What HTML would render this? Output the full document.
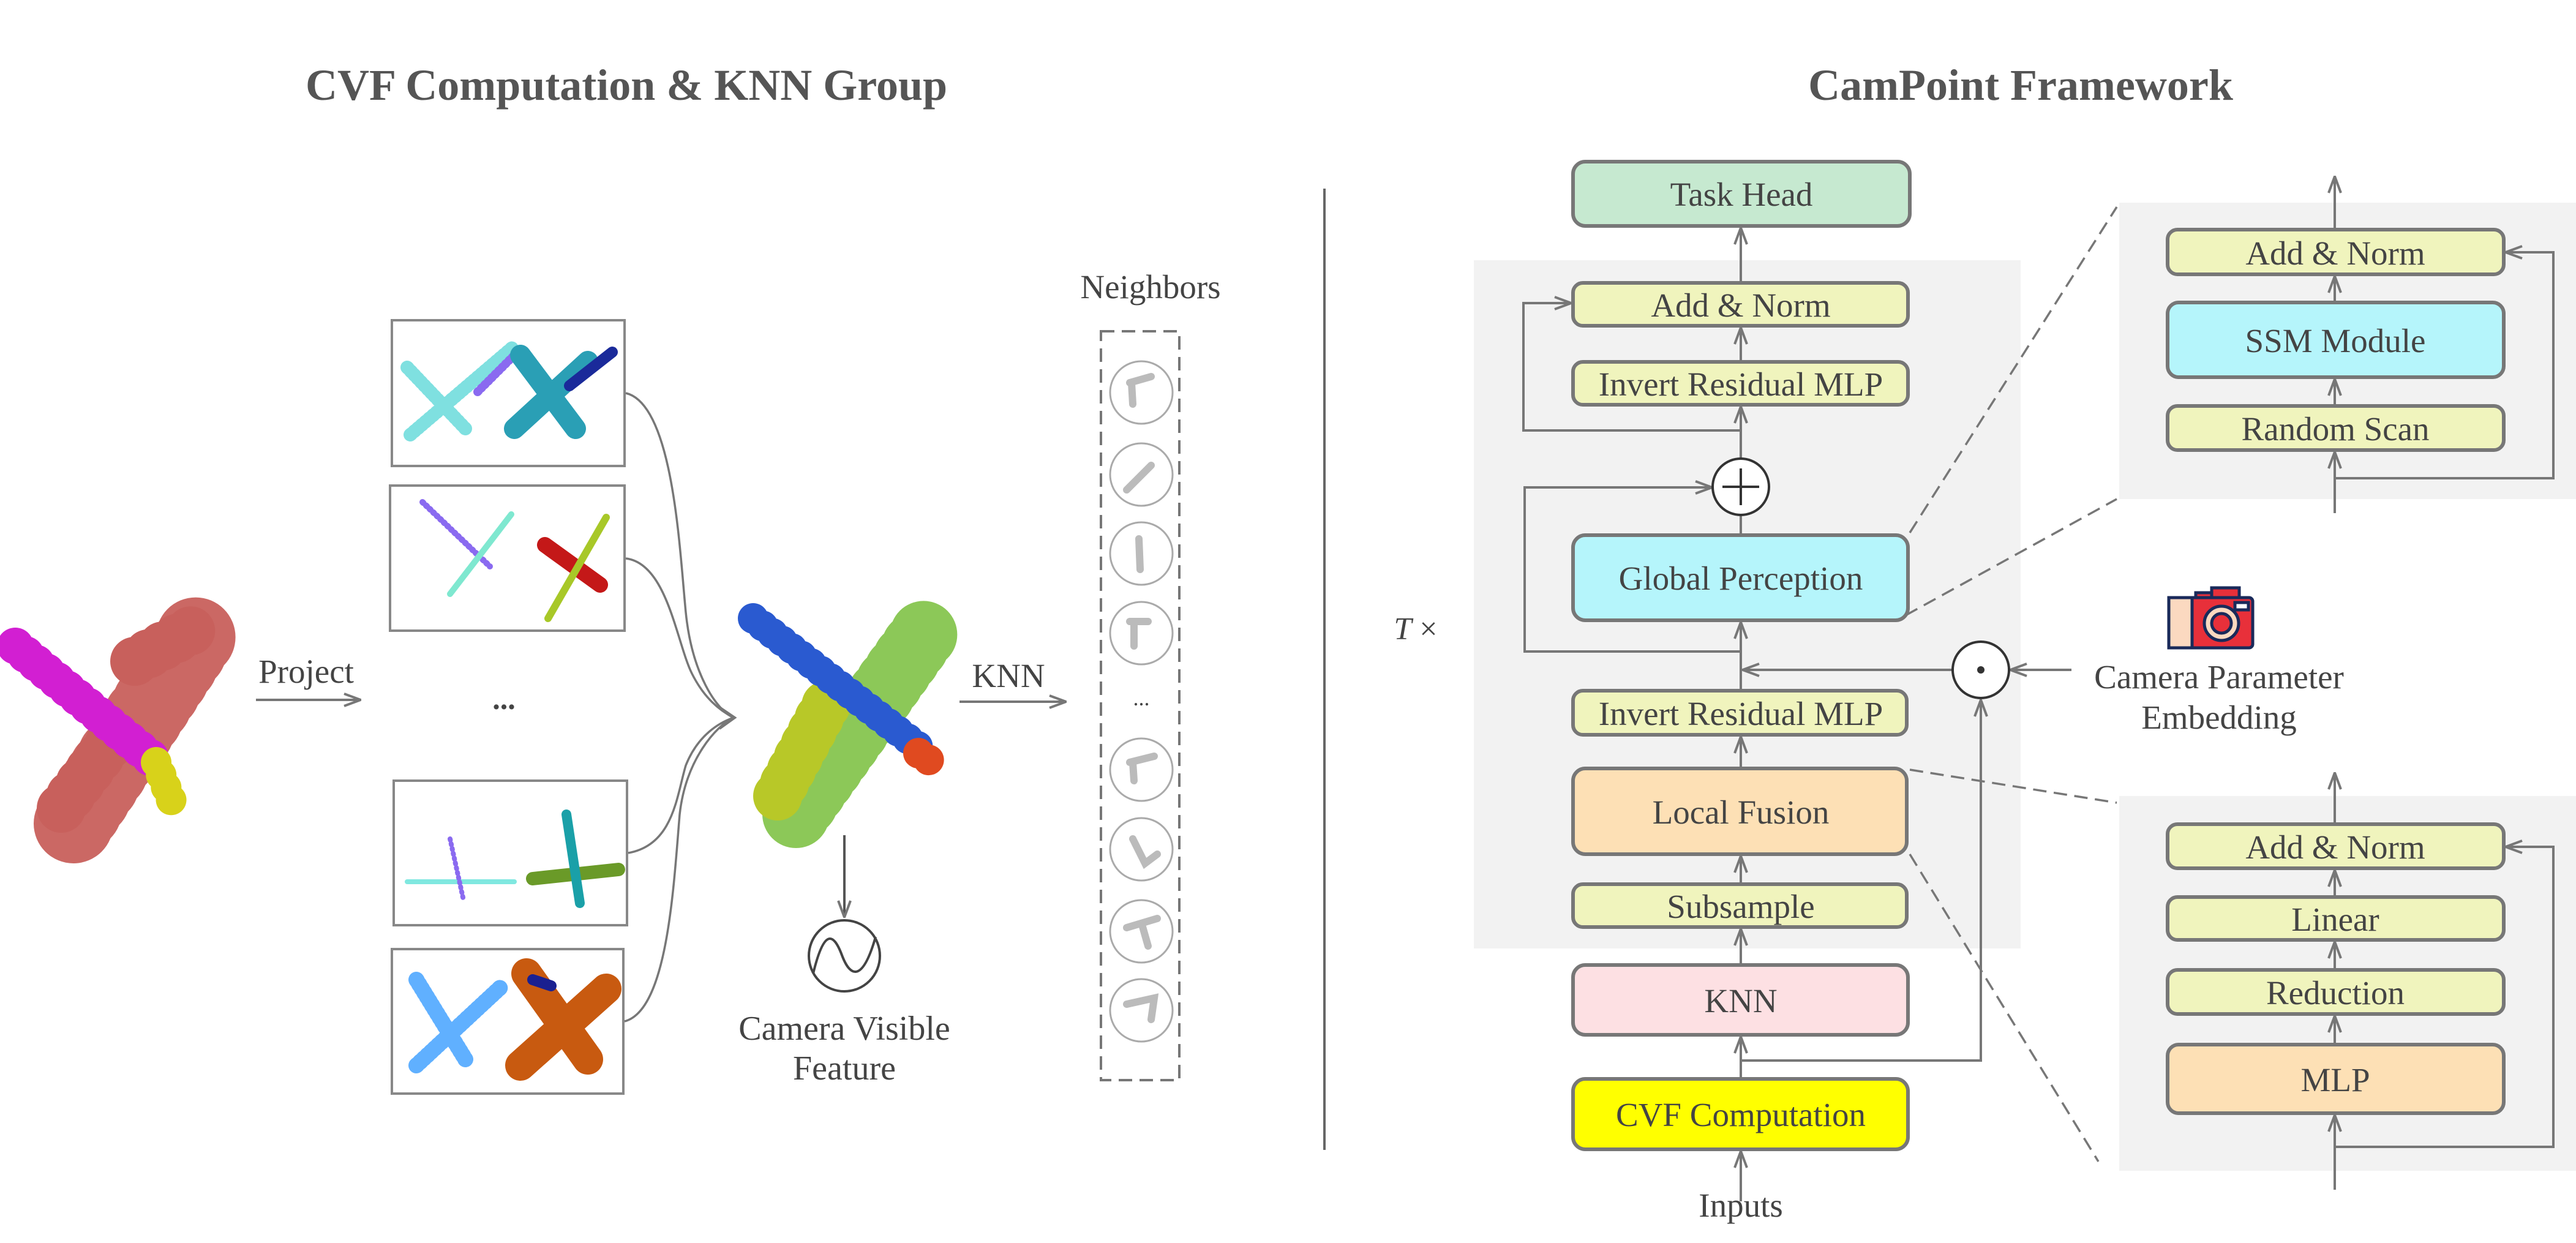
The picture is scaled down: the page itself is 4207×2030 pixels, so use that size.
<!DOCTYPE html>
<html><head><meta charset="utf-8"><style>
html,body{margin:0;padding:0;background:#fff}
svg{display:block}
text{font-family:"Liberation Serif",serif;fill:#444}
</style></head><body>
<svg width="4207" height="2030" viewBox="0 0 4207 2030" xmlns="http://www.w3.org/2000/svg">
<defs>
<marker id="a" viewBox="0 0 30 24" refX="29" refY="12" markerWidth="30" markerHeight="24" orient="auto-start-reverse" markerUnits="userSpaceOnUse">
<path d="M2,2 L29,12 L2,22" fill="none" stroke="#777" stroke-width="4"/>
</marker>
</defs>

<text x="1023" y="163" font-size="72" font-weight="bold" text-anchor="middle" style="fill:#555">CVF Computation &amp; KNN Group</text>
<text x="3300" y="163" font-size="72" font-weight="bold" text-anchor="middle" style="fill:#555">CamPoint Framework</text>

<line x1="2163" y1="308" x2="2163" y2="1878" stroke="#666" stroke-width="4"/>

<g stroke-linecap="round" fill="none">
<path d="M120,1345 L320,1040" stroke="#c8605c" stroke-width="130" stroke-dasharray="0 26" opacity="0.95"/>
<path d="M100,1320 L190,1200 M220,1080 L330,1020" stroke="#c8605c" stroke-width="80" stroke-dasharray="0 26"/>
<path d="M25,1055 L255,1245" stroke="#d21fd2" stroke-width="60" stroke-dasharray="0 22"/>
<path d="M255,1245 L285,1320" stroke="#d8d21a" stroke-width="50" stroke-dasharray="0 22"/>
</g>
<text x="500" y="1115" font-size="55" text-anchor="middle">Project</text>
<line x1="418" y1="1143" x2="589" y2="1143" stroke="#777" stroke-width="4" marker-end="url(#a)"/>

<g fill="#fff" stroke="#888" stroke-width="4">
<rect x="640" y="523" width="380" height="238"/>
<rect x="637" y="793" width="383" height="237"/>
<rect x="643" y="1275" width="381" height="236"/>
<rect x="640" y="1550" width="378" height="236"/>
</g>
<g fill="none" stroke-linecap="round">
<path d="M665,600 L760,700 M670,710 L840,565" stroke="#7fe0e0" stroke-width="22" stroke-dasharray="2 6"/>
<path d="M780,640 L850,570" stroke="#8a6af0" stroke-width="14" stroke-dasharray="2 6"/>
<path d="M850,580 L940,700 M840,700 L960,590" stroke="#2a9fb5" stroke-width="34"/>
<path d="M930,630 L1000,575" stroke="#1a2a9a" stroke-width="18"/>
<path d="M690,820 L800,925" stroke="#8a6af0" stroke-width="10" stroke-dasharray="2 6"/>
<path d="M735,970 L835,840" stroke="#7fe8d0" stroke-width="10"/>
<path d="M890,890 L980,955" stroke="#c41818" stroke-width="26"/>
<path d="M895,1010 L990,845" stroke="#a8c828" stroke-width="12"/>
<path d="M665,1440 L840,1440" stroke="#80e8e0" stroke-width="8"/>
<path d="M735,1370 L757,1470" stroke="#8a6af0" stroke-width="8" stroke-dasharray="2 6"/>
<path d="M870,1435 L1010,1420" stroke="#6a9a28" stroke-width="22"/>
<path d="M925,1330 L947,1475" stroke="#1aa0a8" stroke-width="16"/>
<path d="M680,1600 L760,1730 M680,1740 L820,1610" stroke="#60b0ff" stroke-width="26" stroke-dasharray="2 6"/>
<path d="M860,1590 L960,1730 M850,1740 L990,1615" stroke="#c85a10" stroke-width="50"/>
<path d="M870,1600 L900,1610" stroke="#1a2090" stroke-width="18"/>
</g>
<text x="823" y="1158" font-size="50" text-anchor="middle" font-weight="bold">...</text>
<g fill="none" stroke="#777" stroke-width="3.5">
<path d="M1022,642 C1100,660 1110,900 1120,1000 C1130,1100 1170,1160 1198,1172"/>
<path d="M1022,912 C1090,920 1105,1050 1130,1100 C1150,1140 1175,1160 1198,1172"/>
<path d="M1026,1393 C1100,1380 1105,1300 1120,1250 C1140,1200 1175,1180 1198,1172"/>
<path d="M1020,1668 C1090,1650 1100,1450 1110,1330 C1120,1240 1170,1185 1198,1172"/>
</g>
<path d="M1175,1155 L1200,1172 L1175,1190" fill="none" stroke="#777" stroke-width="4"/>
<g stroke-linecap="round" fill="none">
<path d="M1300,1330 L1520,1020" stroke="#8cc858" stroke-width="110" stroke-dasharray="0 24"/>
<path d="M1270,1300 L1350,1150" stroke="#b8c828" stroke-width="80" stroke-dasharray="0 24"/>
<path d="M1230,1010 L1500,1220" stroke="#2a5ad0" stroke-width="50" stroke-dasharray="0 20"/>
<path d="M1500,1230 L1530,1250" stroke="#e04a20" stroke-width="50" stroke-dasharray="0 20"/>
</g>
<line x1="1379" y1="1364" x2="1379" y2="1498" stroke="#555" stroke-width="4" marker-end="url(#a)"/>
<circle cx="1379" cy="1561" r="58" fill="#fff" stroke="#444" stroke-width="4"/>
<path d="M1328,1590 C1345,1520 1360,1520 1375,1560 C1390,1600 1410,1600 1430,1530" fill="none" stroke="#444" stroke-width="4"/>
<text x="1379" y="1698" font-size="56" text-anchor="middle">Camera Visible</text>
<text x="1379" y="1763" font-size="56" text-anchor="middle">Feature</text>
<text x="1647" y="1122" font-size="55" text-anchor="middle">KNN</text>
<line x1="1567" y1="1146" x2="1741" y2="1146" stroke="#777" stroke-width="4" marker-end="url(#a)"/>
<text x="1879" y="487" font-size="55" text-anchor="middle">Neighbors</text>
<rect x="1798" y="541" width="128" height="1223" fill="none" stroke="#777" stroke-width="4" stroke-dasharray="22 12"/>
<g fill="#fff" stroke="#aaa" stroke-width="3">
<circle cx="1864" cy="641" r="51"/><circle cx="1864" cy="775" r="51"/><circle cx="1864" cy="904" r="51"/><circle cx="1864" cy="1034" r="51"/>
<circle cx="1864" cy="1257" r="51"/><circle cx="1864" cy="1387" r="51"/><circle cx="1864" cy="1521" r="51"/><circle cx="1864" cy="1650" r="51"/>
</g>
<g stroke="#bbb" stroke-width="12" stroke-linecap="round" fill="none">
<path d="M1845,625 L1880,615 M1848,625 L1850,660"/>
<path d="M1840,800 L1880,760"/>
<path d="M1860,880 L1862,930"/>
<path d="M1845,1015 L1875,1015 M1852,1015 L1852,1055"/>
<path d="M1845,1245 L1885,1235 M1850,1245 L1852,1275"/>
<path d="M1850,1370 L1870,1410 L1890,1395"/>
<path d="M1840,1515 L1890,1500 M1865,1510 L1875,1545"/>
<path d="M1840,1640 L1885,1630 L1880,1665"/>
</g>
<text x="1864" y="1152" font-size="36" text-anchor="middle">...</text>

<rect x="2407" y="425" width="893" height="1124" fill="#f2f2f2"/>
<rect x="3461" y="331" width="746" height="484" fill="#f2f2f2"/>
<rect x="3461" y="1300" width="746" height="612" fill="#f2f2f2"/>

<g stroke="#777" stroke-width="3.5" stroke-dasharray="22 12" fill="none">
<line x1="3119" y1="870" x2="3457" y2="338"/>
<line x1="3112" y1="1005" x2="3457" y2="815"/>
<line x1="3119" y1="1257" x2="3457" y2="1311"/>
<line x1="3119" y1="1395" x2="3427" y2="1897"/>
</g>

<g stroke="#777" stroke-width="4" fill="none">
<line x1="2843" y1="1962" x2="2843" y2="1880" marker-end="url(#a)"/>
<line x1="2843" y1="1762" x2="2843" y2="1693" marker-end="url(#a)"/>
<line x1="2843" y1="1576" x2="2843" y2="1517" marker-end="url(#a)"/>
<line x1="2843" y1="1444" x2="2843" y2="1398" marker-end="url(#a)"/>
<line x1="2843" y1="1255" x2="2843" y2="1203" marker-end="url(#a)"/>
<line x1="2843" y1="1128" x2="2843" y2="1016" marker-end="url(#a)"/>
<line x1="2843" y1="874" x2="2843" y2="841"/>
<line x1="2843" y1="749" x2="2843" y2="664" marker-end="url(#a)"/>
<line x1="2843" y1="591" x2="2843" y2="535" marker-end="url(#a)"/>
<line x1="2843" y1="462" x2="2843" y2="372" marker-end="url(#a)"/>
<polyline points="2843,703 2488,703 2488,495 2566,495" marker-end="url(#a)"/>
<polyline points="2843,1064 2490,1064 2490,796 2796,796" marker-end="url(#a)"/>
<polyline points="2843,1732 3235,1732 3235,1143" marker-end="url(#a)"/>
<line x1="3189" y1="1094" x2="2846" y2="1094" marker-end="url(#a)"/>
<line x1="3383" y1="1094" x2="3283" y2="1094" marker-end="url(#a)"/>
<line x1="3813" y1="375" x2="3813" y2="288" marker-end="url(#a)"/>
<line x1="3813" y1="494" x2="3813" y2="451" marker-end="url(#a)"/>
<line x1="3813" y1="663" x2="3813" y2="619" marker-end="url(#a)"/>
<line x1="3813" y1="838" x2="3813" y2="738" marker-end="url(#a)"/>
<polyline points="3813,781 4170,781 4170,412 4092,412" marker-end="url(#a)"/>
<line x1="3813" y1="1346" x2="3813" y2="1262" marker-end="url(#a)"/>
<line x1="3813" y1="1465" x2="3813" y2="1421" marker-end="url(#a)"/>
<line x1="3813" y1="1584" x2="3813" y2="1538" marker-end="url(#a)"/>
<line x1="3813" y1="1706" x2="3813" y2="1659" marker-end="url(#a)"/>
<line x1="3813" y1="1943" x2="3813" y2="1821" marker-end="url(#a)"/>
<polyline points="3813,1873 4170,1873 4170,1383 4092,1383" marker-end="url(#a)"/>
</g>

<g stroke="#777" stroke-width="6">
<rect x="2569" y="264" width="550" height="105" rx="20" fill="#c6e9d0"/>
<rect x="2569" y="462" width="547" height="70" rx="16" fill="#f0f4bd"/>
<rect x="2569" y="591" width="547" height="70" rx="16" fill="#f0f4bd"/>
<rect x="2569" y="874" width="547" height="139" rx="20" fill="#b5f5fb"/>
<rect x="2569" y="1128" width="545" height="72" rx="16" fill="#f0f4bd"/>
<rect x="2569" y="1255" width="545" height="140" rx="20" fill="#fde0b5"/>
<rect x="2569" y="1444" width="545" height="70" rx="16" fill="#f0f4bd"/>
<rect x="2569" y="1576" width="547" height="114" rx="20" fill="#fde0e3"/>
<rect x="2569" y="1762" width="547" height="115" rx="20" fill="#ffff00"/>
<rect x="3540" y="375" width="549" height="73" rx="16" fill="#f0f4bd"/>
<rect x="3540" y="494" width="549" height="122" rx="18" fill="#b5f5fb"/>
<rect x="3540" y="663" width="549" height="72" rx="16" fill="#f0f4bd"/>
<rect x="3540" y="1346" width="549" height="72" rx="16" fill="#f0f4bd"/>
<rect x="3540" y="1465" width="549" height="70" rx="16" fill="#f0f4bd"/>
<rect x="3540" y="1584" width="549" height="72" rx="16" fill="#f0f4bd"/>
<rect x="3540" y="1706" width="549" height="112" rx="18" fill="#fde0b5"/>
</g>
<g font-size="55" text-anchor="middle">
<text x="2844" y="336">Task Head</text>
<text x="2843" y="517">Add &amp; Norm</text>
<text x="2843" y="646">Invert Residual MLP</text>
<text x="2843" y="963">Global Perception</text>
<text x="2843" y="1184">Invert Residual MLP</text>
<text x="2843" y="1345">Local Fusion</text>
<text x="2843" y="1499">Subsample</text>
<text x="2843" y="1653">KNN</text>
<text x="2843" y="1839">CVF Computation</text>
<text x="2843" y="1987">Inputs</text>
<text x="3814" y="432">Add &amp; Norm</text>
<text x="3814" y="575">SSM Module</text>
<text x="3814" y="719">Random Scan</text>
<text x="3814" y="1402">Add &amp; Norm</text>
<text x="3814" y="1520">Linear</text>
<text x="3814" y="1640">Reduction</text>
<text x="3814" y="1782">MLP</text>
<text x="3624" y="1124">Camera Parameter</text>
<text x="3624" y="1190">Embedding</text>
</g>
<text x="2312" y="1044" font-size="52" text-anchor="middle"><tspan font-style="italic">T</tspan> ×</text>

<circle cx="2843" cy="795" r="46" fill="#fff" stroke="#333" stroke-width="4"/>
<path d="M2813,795 H2873 M2843,765 V825" stroke="#333" stroke-width="4"/>
<circle cx="3235" cy="1094" r="46" fill="#fff" stroke="#333" stroke-width="4"/>
<circle cx="3235" cy="1094" r="6" fill="#333"/>

<g stroke="#1a2a5a" stroke-width="5">
<rect x="3586" y="968" width="30" height="12" fill="#e8303a"/>
<rect x="3612" y="960" width="45" height="18" fill="#e8303a"/>
<rect x="3542" y="976" width="137" height="82" rx="6" fill="#e8303a"/>
<rect x="3542" y="976" width="38" height="82" fill="#fbd9c0"/>
<circle cx="3628" cy="1018" r="28" fill="#fbd9c0"/>
<circle cx="3628" cy="1018" r="16" fill="#e8303a"/>
<rect x="3650" y="984" width="22" height="12" fill="#fff"/>
</g>
</svg>
</body></html>
